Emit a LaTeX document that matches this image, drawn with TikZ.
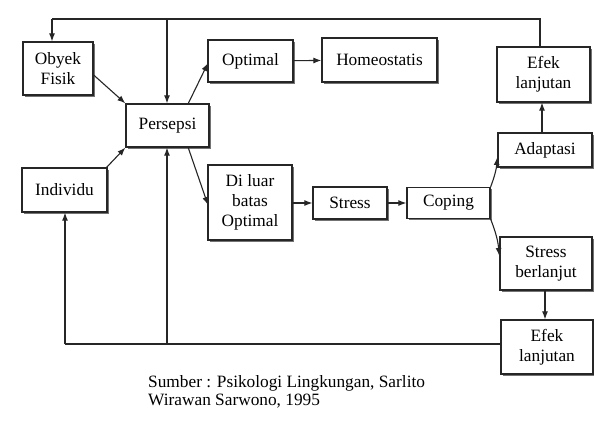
\documentclass[tikz,border=0pt]{standalone}
\usepackage{fontspec}
\setmainfont{Liberation Serif}
\usetikzlibrary{arrows.meta,shadows}
\begin{document}
\begin{tikzpicture}[x=1pt,y=-1pt,
  box/.style={draw=black!85, line width=1.3pt, fill=white, align=center, inner sep=0pt,
    font=\fontsize{17.3}{20}\selectfont,
    drop shadow={shadow xshift=1.8pt, shadow yshift=-1.8pt, fill=black!55, opacity=1}},
  conn/.style={line width=1.1pt, draw=black!85},
  arr/.style={conn, -{Latex[length=8pt,width=6pt]}}]
\useasboundingbox[fill=white] (0,0) rectangle (594,426);
% boxes (centre, width, height from pixel corners)
\node[box, minimum width=70pt, minimum height=53pt] (obyek) at (58,68.5) {Obyek\\Fisik};
\node[box, minimum width=83pt, minimum height=43pt] (persepsi) at (167.5,125.5) {Persepsi};
\node[box, minimum width=85pt, minimum height=44pt] (individu) at (64.5,190) {Individu};
\node[box, minimum width=85pt, minimum height=42pt] (optimal) at (250.5,61) {Optimal};
\node[box, minimum width=115pt, minimum height=44pt] (homeo) at (379.5,60) {Homeostatis};
\node[box, minimum width=84pt, minimum height=75pt] (diluar) at (250,202.5) {Di luar\\batas\\Optimal};
\node[box, minimum width=74pt, minimum height=32pt] (stress) at (350,203) {Stress};
\node[box, minimum width=83pt, minimum height=31pt] (coping) at (448.5,203) {Coping};
\node[box, minimum width=93pt, minimum height=55pt] (efek1) at (543.5,74.5) {Efek\\lanjutan};
\node[box, minimum width=94pt, minimum height=34pt] (adaptasi) at (545,150) {Adaptasi};
\node[box, minimum width=92pt, minimum height=53pt] (berlanjut) at (546,263.5) {Stress\\berlanjut};
\node[box, minimum width=92pt, minimum height=54pt] (efek2) at (547,347) {Efek\\lanjutan};
% helper coordinates
\coordinate (tR) at (540,19);
\coordinate (tM) at (167,19);
\coordinate (tL) at (52,19);
\coordinate (bR) at (501,344);
\coordinate (bM) at (167,344);
\coordinate (bL) at (65,344);
% connectors
\draw[arr] (obyek.east |- 0,75) -- (persepsi.north west);
\draw[arr] (106,168) -- (persepsi.south west);
\draw[arr] (188,104) -- (208,63);
\draw[arr] (188,147) -- (208,205);
\draw[arr] (optimal) -- (homeo);
\draw[arr] (diluar.east |- 0,203) -- (stress.west |- 0,203);
\draw[arr] (stress) -- (coping);
\draw[arr] (coping.north east) to[bend right=8] (adaptasi.west |- 0,157);
\draw[arr] (coping.south east) to[bend left=8] (berlanjut.west |- 0,256);
\draw[arr] (adaptasi.north -| 542,0) -- (efek1.south -| 542,0);
\draw[arr] (berlanjut.south -| 545,0) -- (efek2.north -| 545,0);
\draw[conn] (efek1.north -| tR) -- (tR) -- (tL);
\draw[arr] (tL) -- (obyek.north -| tL);
\draw[arr] (tM) -- (persepsi.north -| tM);
\draw[conn] (bR) -- (bL);
\draw[arr] (bL) -- (individu.south -| bL);
\draw[arr] (bM) -- (persepsi.south -| bM);
% caption
\node[anchor=base west, align=left, inner sep=0pt, font=\fontsize{17.3}{18}\selectfont] (cap) at (148,405)
  {Sumber : Psikologi Lingkungan, Sarlito\\Wirawan Sarwono, 1995};
\end{tikzpicture}
\end{document}
